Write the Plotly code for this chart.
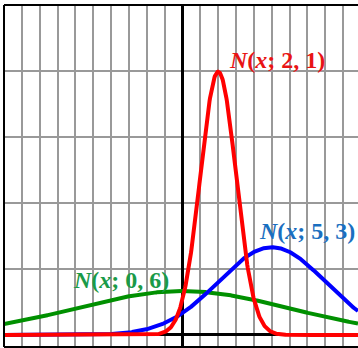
import numpy as np
import plotly.graph_objects as go

names = ["N(x; 0, 6)", "N(x; 5, 3)", "N(x; 2, 1)"]
mus = [0, 5, 2]
sigmas = [6, 3, 1]
curve_colors = ["#009000", "#0000ff", "#ff0000"]
label_colors = ["#1a9a48", "#1a6fc0", "#e81414"]
label_html = ["<b><i>N</i>(<i>x</i>; 0, 6)</b>",
              "<b><i>N</i>(<i>x</i>; 5, 3)</b>",
              "<b><i>N</i>(<i>x</i>; 2, 1)</b>"]
label_x = [-6.18, 4.24, 2.54]
label_y = [0.083, 0.157, 0.417]

x_range = [-10.0, 9.83]
y_range = [-0.0182, 0.5]

xs = np.linspace(x_range[0], x_range[1], 800)

fig = go.Figure()
for mu, s, c, n in zip(mus, sigmas, curve_colors, names):
    ys = np.exp(-((xs - mu) ** 2) / (2 * s * s)) / (s * np.sqrt(2 * np.pi))
    fig.add_trace(go.Scatter(x=xs, y=ys, mode="lines", name=n,
                             line=dict(color=c, width=4), hoverinfo="skip"))

for t, lx, ly, c in zip(label_html, label_x, label_y, label_colors):
    fig.add_annotation(x=lx, y=ly, text=t, showarrow=False, xanchor="left",
                       yanchor="middle", borderpad=0,
                       font=dict(family="Liberation Serif", size=24, color=c))

fig.update_xaxes(range=x_range, dtick=1, tick0=0, showgrid=True,
                 gridcolor="#999999", gridwidth=1.5, zeroline=True,
                 zerolinecolor="black", zerolinewidth=3, showticklabels=False,
                 ticks="", showline=False, fixedrange=True)
fig.update_yaxes(range=y_range, dtick=0.1, tick0=0, showgrid=True,
                 gridcolor="#999999", gridwidth=1.5, zeroline=True,
                 zerolinecolor="black", zerolinewidth=3, showticklabels=False,
                 ticks="", showline=False, fixedrange=True)

# frame: top, left, bottom
for x0, y0, x1, y1 in [(0, 1, 1, 1), (0, 0, 0, 1), (0, 0, 1, 0)]:
    fig.add_shape(type="line", xref="paper", yref="paper", x0=x0, y0=y0,
                  x1=x1, y1=y1, line=dict(color="black", width=2))

fig.update_layout(width=358, height=348,
                  margin=dict(l=4, r=0, t=5, b=1),
                  paper_bgcolor="white", plot_bgcolor="white",
                  showlegend=False)

fig.write_html("out.html", config={"displayModeBar": False},
               post_script="document.body.style.margin='0';"
                           "document.body.style.overflow='hidden';")
